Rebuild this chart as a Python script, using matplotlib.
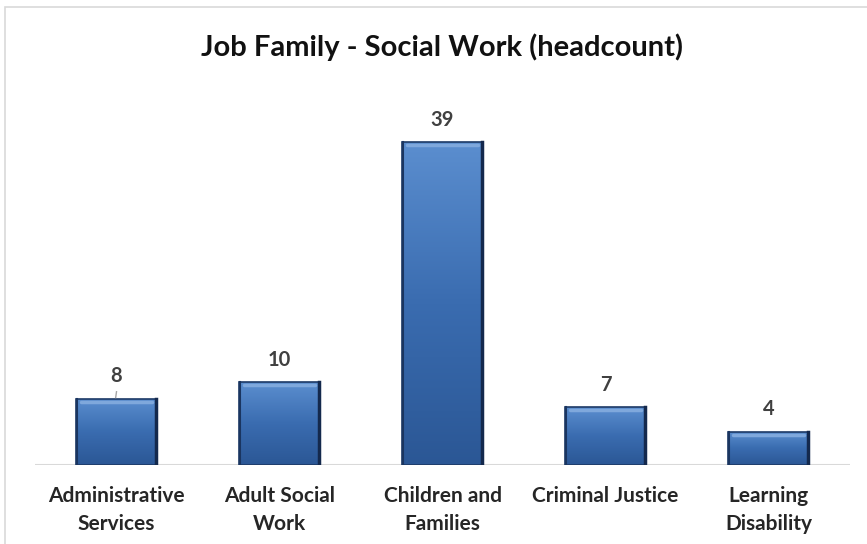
import numpy as np
import matplotlib.pyplot as plt
from matplotlib.patches import Rectangle
from matplotlib.colors import LinearSegmentedColormap

plt.rcParams['font.family'] = ['Lato', 'DejaVu Sans']

categories = ['Administrative\nServices', 'Adult Social\nWork', 'Children and\nFamilies',
              'Criminal Justice', 'Learning\nDisability']
headcount = [8, 10, 39, 7, 4]

title = 'Job Family - Social Work (headcount)'

fig = plt.figure(figsize=(8.67, 5.44), dpi=100)
# outer chart frame
fig.patches.append(Rectangle((5 / 867, -0.05), 1.0, 1.05 - 7 / 544, transform=fig.transFigure,
                             fill=False, edgecolor='#d9d9d9', linewidth=1.2))

ax = fig.add_axes([35 / 867, (544 - 465) / 544, 815 / 867, 365 / 544])
ax.set_xlim(-0.5, len(categories) - 0.5)
ax.set_ylim(0, 365 / 8.28)

grad = LinearSegmentedColormap.from_list('bar', ['#2b5795', '#3a6cb0', '#5b8ecf'])
width = 0.5
for i, v in enumerate(headcount):
    x0 = i - width / 2
    img = ax.imshow(np.linspace(0, 1, 256).reshape(-1, 1), cmap=grad, origin='lower',
                    extent=(x0, x0 + width, 0, v), aspect='auto', zorder=2)
    rect = Rectangle((x0, 0), width, v, fill=False, edgecolor='#1d3a66', linewidth=1.2, zorder=3)
    ax.add_patch(rect)
    img.set_clip_path(rect)
    # darker bevel on the sides, light bevel along the top
    ax.plot([x0 + 0.008, x0 + 0.008], [0, v], color='#1a3560', linewidth=1.5, zorder=3)
    ax.plot([x0 + width - 0.01, x0 + width - 0.01], [0, v], color='#14294d', linewidth=2.5, zorder=3)
    ax.plot([x0 + 0.03, x0 + width - 0.03], [v - 0.35, v - 0.35], color='#7fa8dc',
            linewidth=2.5, zorder=3, solid_capstyle='round')
    ax.text(i, v + 1.5, str(v), ha='center', va='bottom', fontsize=14.5, fontweight='bold',
            color='#404040')

# small leader line under the first data label
ax.plot([-0.005, 0.0], [headcount[0] + 0.15, headcount[0] + 0.85], color='#a6a6a6',
        linewidth=1, zorder=3)

ax.axhline(0, color='#d9d9d9', linewidth=1.5, zorder=1)
for s in ax.spines.values():
    s.set_visible(False)
ax.set_yticks([])
ax.set_xticks(range(len(categories)))
ax.set_xticklabels(categories, fontsize=15, fontweight='bold', color='#262626', linespacing=1.5)
ax.tick_params(axis='x', length=0, pad=15)

fig.text(442 / 867, 1 - 47 / 544, title, ha='center', va='center', fontsize=21,
         fontweight='bold', color='#111111')

fig.savefig('out.png', dpi=100)
